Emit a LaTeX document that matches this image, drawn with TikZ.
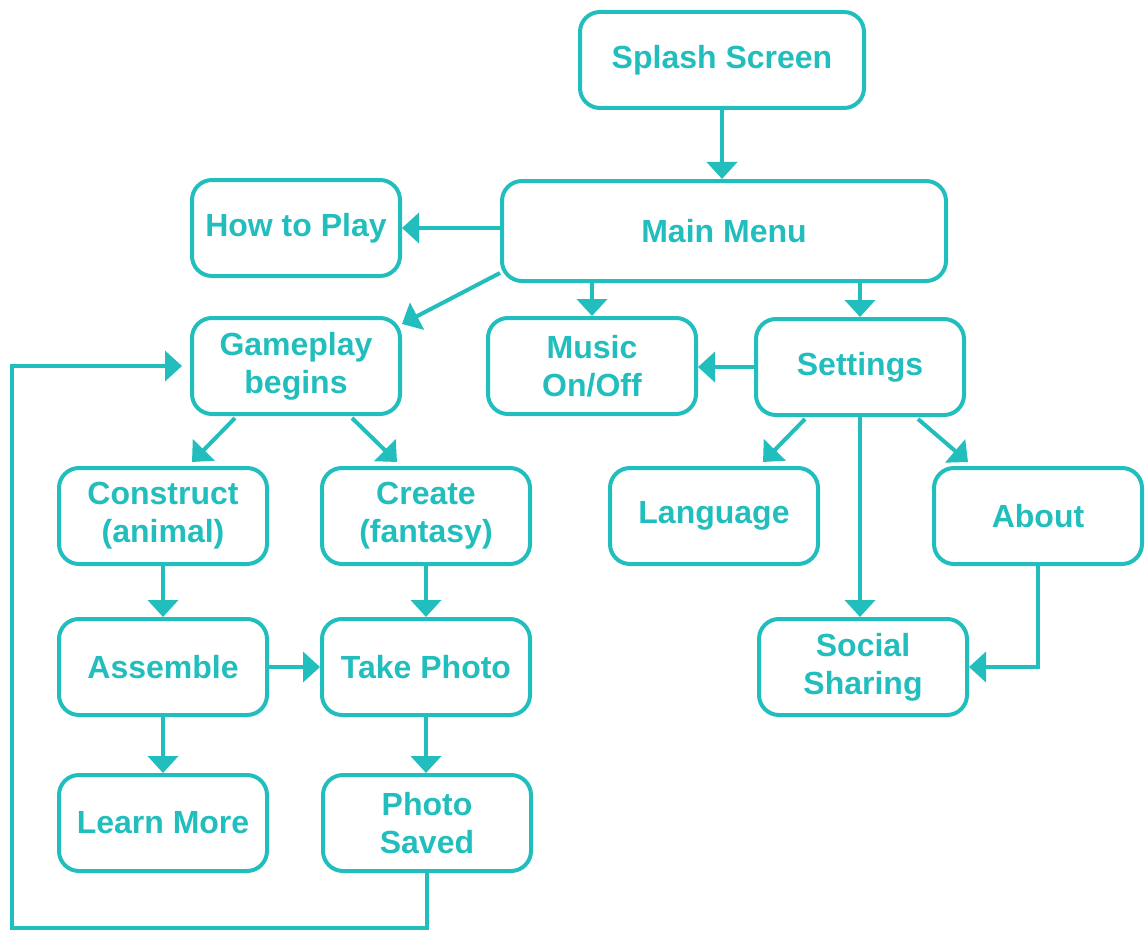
\documentclass[tikz,border=0pt]{standalone}
\usepackage{fontspec}
\setmainfont{Liberation Sans}
\usetikzlibrary{calc,arrows.meta}
\definecolor{teal}{RGB}{34,189,189}
\tikzset{
  box/.style={draw=teal, line width=4pt, rounded corners=20pt, text=teal, align=center,
    minimum width=208pt, minimum height=96pt, font=\fontsize{32}{38}\selectfont\bfseries},
  arr/.style={draw=teal, line width=4pt, -{Triangle[width=30pt,length=17pt]}}
}
\begin{document}
\begin{tikzpicture}[x=1pt, y=-1pt]
\useasboundingbox (0,0) rectangle (1146,931);
\node[box, minimum width=284pt] (splash) at (722,60) {Splash Screen};
\node[box, minimum width=444pt, minimum height=100pt] (main) at (724,231) {Main Menu};
\node[box] (howto) at (296,228) {How to Play};
\node[box] (game) at (296,366) {Gameplay\\begins};
\node[box] (music) at (592,366) {Music\\On/Off};
\node[box] (settings) at (860,367) {Settings};
\node[box] (construct) at (163,516) {Construct\\(animal)};
\node[box] (create) at (426,516) {Create\\(fantasy)};
\node[box] (lang) at (714,516) {Language};
\node[box] (about) at (1038,516) {About};
\node[box] (assemble) at (163,667) {Assemble};
\node[box] (photo) at (426,667) {Take Photo};
\node[box] (social) at (863,667) {Social\\Sharing};
\node[box] (learn) at (163,823) {Learn More};
\node[box] (saved) at (427,823) {Photo\\Saved};
\coordinate (loop) at (12,928);
\draw[arr] (splash.south) -- (splash.south |- main.north);
\draw[arr] (main.west |- howto) -- (howto.east);
\draw[arr] ($(main.south west)+(0,-10)$) -- ($(game.north east)+(0,8)$);
\draw[arr] (main.south -| music) -- (music.north);
\draw[arr] (main.south -| settings) -- (settings.north);
\draw[arr] (settings.west) -- (settings.west -| music.east);
\draw[arr] ($(settings.south)+(-55,2)$) -- ($(lang.north)+(49,-4)$);
\draw[arr] ($(settings.south)+(58,2)$) -- ($(about.north)+(-70,-4)$);
\draw[arr] (settings.south) -- (settings.south |- social.north);
\draw[arr] (about.south) |- (social.east);
\draw[arr] ($(game.south)+(-61,2)$) -- ($(construct.north)+(29,-4)$);
\draw[arr] ($(game.south)+(56,2)$) -- ($(create.north)+(-29,-4)$);
\draw[arr] (construct) -- (assemble);
\draw[arr] (create) -- (photo);
\draw[arr] (assemble) -- (photo);
\draw[arr] (assemble) -- (learn);
\draw[arr] (photo.south) -- (photo.south |- saved.north);
\draw[arr, shorten >=8pt] (saved.south) |- (loop) |- (game.west);
\end{tikzpicture}
\end{document}
